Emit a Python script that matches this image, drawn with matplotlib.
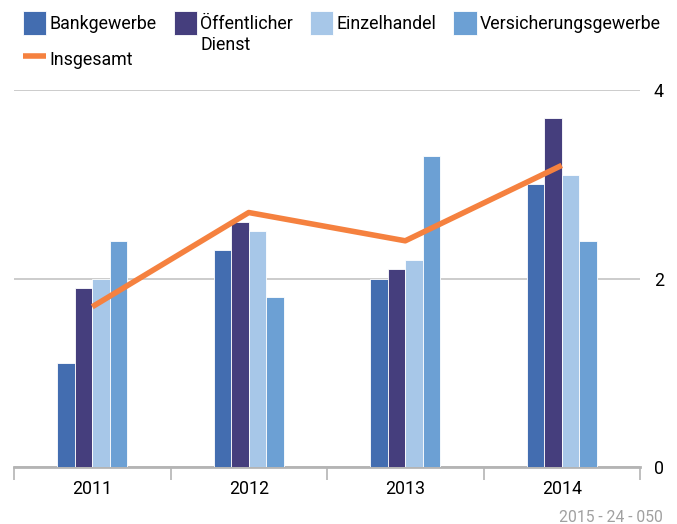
import numpy as np
import matplotlib.pyplot as plt

plt.rcParams['font.family'] = ['Roboto', 'DejaVu Sans']

years = ['2011', '2012', '2013', '2014']
bankgewerbe = [1.1, 2.3, 2.0, 3.0]
oeffentlicher_dienst = [1.9, 2.6, 2.1, 3.7]
einzelhandel = [2.0, 2.5, 2.2, 3.1]
versicherungsgewerbe = [2.4, 1.8, 3.3, 2.4]
insgesamt = [1.7, 2.7, 2.4, 3.2]

series = [
    ('Bankgewerbe', bankgewerbe, '#436db0'),
    ('Öffentlicher', oeffentlicher_dienst, '#453e7d'),
    ('Einzelhandel', einzelhandel, '#a7c7e8'),
    ('Versicherungsgewerbe', versicherungsgewerbe, '#6ca0d4'),
]
fs = 12.8

fig = plt.figure(figsize=(6.77, 5.24), dpi=100)
ax = fig.add_axes([14 / 677, 1 - 467 / 524, 626 / 677, 377 / 524])

x = np.arange(len(years))
w = 0.112
bars = []
for i, (name, vals, col) in enumerate(series):
    b = ax.bar(x + (i - 1.5) * w, vals, w, color=col, edgecolor='white',
               linewidth=0.6, label=name, zorder=3)
    bars.append(b)
line, = ax.plot(x, insgesamt, color='#f5813f', lw=4, label='Insgesamt',
                zorder=4, solid_capstyle='butt')

ax.set_xlim(-0.5, 3.5)
ax.set_ylim(0, 4)
ax.set_yticks([0, 2, 4])
ax.yaxis.tick_right()
ax.tick_params(axis='y', length=0, pad=10, labelsize=fs)
ax.grid(axis='y', color='#c8c8c8', lw=1.3, zorder=0)

ax.set_xticks(x)
ax.set_xticklabels(years)
ax.set_xticks(np.arange(-0.5, 4, 1), minor=True)
ax.tick_params(axis='x', which='major', length=0, pad=9, labelsize=fs)
ax.tick_params(axis='x', which='minor', length=9, width=1.2, color='#b4b4b4')

for s in ['top', 'right', 'left']:
    ax.spines[s].set_visible(False)
ax.spines['bottom'].set_color('#b4b4b4')
ax.spines['bottom'].set_linewidth(2)

handles = [bars[0], line, bars[1], bars[2], bars[3]]
labels = [h.get_label() for h in handles]
leg = fig.legend(handles, labels, ncol=4, loc='upper left',
                 bbox_to_anchor=(23 / 677, 1 - 11 / 524), frameon=False,
                 fontsize=fs, handlelength=1.3, handleheight=1.7,
                 handletextpad=0.2, columnspacing=0.95, labelspacing=0.7,
                 borderaxespad=0, borderpad=0)

# zweite Zeile von "Öffentlicher Dienst"
fig.canvas.draw()
bb = leg.get_texts()[2].get_window_extent().transformed(fig.transFigure.inverted())
fig.text(bb.x0, bb.y0 - 21 / 524, 'Dienst', fontsize=fs, ha='left', va='bottom')

fig.text(663 / 677, 1 - 517 / 524, '2015 - 24 - 050', ha='right', va='center',
         color='#a0a0a0', fontsize=11.3)

fig.savefig('out.png', dpi=100)
